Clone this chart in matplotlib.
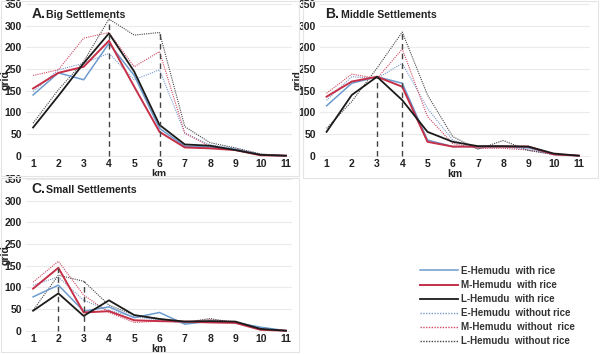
import matplotlib
matplotlib.use("Agg")
import matplotlib.pyplot as plt
from matplotlib.patches import Rectangle

plt.rcParams['font.family'] = ['Liberation Sans', 'DejaVu Sans']

# -----------------------------
# data
# -----------------------------
km = [1, 2, 3, 4, 5, 6, 7, 8, 9, 10, 11]
y_ticks = [0, 50, 100, 150, 200, 250, 300, 350]
y_tick_labels = ["0", "50", "100", "150", "250", "200", "300", "350"]

# A. Big settlements
big_e_rice = [140, 191, 175, 259, 185, 63, 22, 20, 15, 2, 0]
big_m_rice = [155, 191, 205, 265, 159, 55, 19, 17, 13, 1, 0]
big_l_rice = [65, 138, 213, 282, 194, 71, 26, 23, 13, 2, 0]
big_e_norice = [148, 198, 213, 236, 175, 198, 52, 25, 17, 3, 0]
big_m_norice = [185, 198, 271, 284, 205, 240, 52, 21, 13, 2, 0]
big_l_norice = [75, 152, 217, 315, 278, 284, 67, 30, 18, 4, 0]
# guide lines: (km, index of the series they reach up to)
big_guides = [(4, 5), (6, 5)]

# B. Middle settlements
mid_e_rice = [115, 167, 182, 167, 36, 21, 21, 21, 18, 3, 0]
mid_m_rice = [136, 171, 182, 159, 32, 21, 21, 21, 21, 3, 0]
mid_l_rice = [55, 140, 182, 128, 55, 32, 22, 22, 21, 5, 0]
mid_e_norice = [128, 182, 178, 213, 109, 36, 17, 21, 13, 3, 0]
mid_m_norice = [144, 188, 178, 246, 90, 28, 17, 17, 13, 3, 0]
mid_l_norice = [63, 125, 202, 285, 140, 44, 15, 35, 12, 3, 0]
mid_guides = [(3, 2), (4, 5)]

# C. Small settlements
small_e_rice = [78, 105, 45, 55, 30, 42, 15, 22, 19, 8, 0]
small_m_rice = [97, 145, 42, 45, 24, 22, 21, 19, 18, 2, 0]
small_l_rice = [46, 86, 34, 70, 36, 27, 21, 22, 21, 4, 0]
small_e_norice = [105, 124, 70, 47, 32, 25, 17, 25, 19, 7, 0]
small_m_norice = [112, 160, 82, 42, 19, 22, 21, 25, 21, 5, 0]
small_l_norice = [47, 128, 114, 59, 36, 28, 19, 28, 18, 5, 0]
small_guides = [(2, 1), (3, 5)]

labels = ["E-Hemudu  with rice", "M-Hemudu  with rice", "L-Hemudu  with rice",
          "E-Hemudu  without rice", "M-Hemudu  without  rice", "L-Hemudu  without rice"]

blue = "#6c9bcf"
red = "#c52f48"
black = "#1b1b1b"
styles = [
    dict(color=blue, lw=1.1, ls="-"),
    dict(color=red, lw=1.4, ls="-"),
    dict(color=black, lw=1.3, ls="-"),
    dict(color="#7b98cc", lw=0.8, ls=(0, (1, 1))),
    dict(color="#d04a62", lw=0.8, ls=(0, (1, 1))),
    dict(color="#444444", lw=0.8, ls=(0, (1, 1))),
]

W, H = 600, 354
fig = plt.figure(figsize=(W / 100, H / 100), dpi=100)


def px_axes(left, top, right, bottom):
    return fig.add_axes([left / W, 1 - bottom / H, (right - left) / W, (bottom - top) / H])


def panel(ax, series, guides, letter, name, xlim, ylab_x):
    for vals, st in zip(series[3:], styles[3:]):
        ax.plot(km, vals, **st)
    for vals, st in zip(series[:3], styles[:3]):
        ax.plot(km, vals, **st)
    for p, idx in guides:
        ax.plot([p, p], [0, series[idx][p - 1]], color="#444444",
                lw=1.0, ls=(0, (4, 3)))
    ax.set_xlim(*xlim)
    ax.set_ylim(-3, 352)
    ax.set_yticks(y_ticks)
    ax.set_yticklabels(y_tick_labels)
    ax.set_xticks(km)
    ax.tick_params(length=0, labelsize=7.5)
    ax.tick_params(axis="x", pad=1.5)
    ax.tick_params(axis="y", pad=3)
    for t in ax.get_xticklabels() + ax.get_yticklabels():
        t.set_fontweight("bold")
        t.set_color("#222222")
    ax.grid(axis="y", color="#ebebeb", lw=0.8)
    ax.set_axisbelow(True)
    for s in ax.spines.values():
        s.set_visible(False)
    ax.set_xlabel("km", fontsize=7.5, fontweight="bold", color="#222222")
    ax.xaxis.set_label_coords(0.5, -0.08)
    ax.set_ylabel("grid", fontsize=7.5, fontweight="bold", color="#222222")
    ax.yaxis.set_label_coords(ylab_x, 0.5)
    lt = ax.text(0.02, 0.905, letter, transform=ax.transAxes, fontsize=10,
                 fontweight="bold", va="baseline", ha="left", color="#222222")
    ax.annotate(name, xy=(1, 0), xycoords=lt, xytext=(0.8, 0.3),
                textcoords="offset points", fontsize=7.6, fontweight="bold",
                va="bottom", ha="left", color="#222222")


# faint panel frames
for (x0, y0, x1, y1) in [(1, 1, 299, 176), (303, 1, 598, 178), (1, 178, 299, 352)]:
    fig.patches.append(Rectangle((x0 / W, 1 - y1 / H), (x1 - x0) / W, (y1 - y0) / H,
                                 transform=fig.transFigure, fill=False,
                                 ec="#e4e4e4", lw=0.8))

axA = px_axes(26, 3, 292, 157)
panel(axA, [big_e_rice, big_m_rice, big_l_rice, big_e_norice, big_m_norice, big_l_norice],
      big_guides, "A.", "Big Settlements", (0.72, 11.24), -0.056)

axB = px_axes(320, 3, 590, 157)
panel(axB, [mid_e_rice, mid_m_rice, mid_l_rice, mid_e_norice, mid_m_norice, mid_l_norice],
      mid_guides, "B.", "Middle Settlements", (0.74, 11.44), -0.065)

axC = px_axes(26, 178, 292, 332)
panel(axC, [small_e_rice, small_m_rice, small_l_rice, small_e_norice, small_m_norice, small_l_norice],
      small_guides, "C.", "Small Settlements", (0.72, 11.24), -0.056)

handles = [plt.Line2D([], [], **st) for st in styles]
for h in handles[3:]:
    h.set_linewidth(1.0)
leg = fig.legend(handles, labels, loc="upper left", bbox_to_anchor=(416 / W, 1 - 262 / H),
                 frameon=False, fontsize=7, handlelength=3.9, handletextpad=0.35,
                 labelspacing=0.42, borderaxespad=0)
for t in leg.get_texts():
    t.set_fontweight("bold")
    t.set_color("#333333")

fig.savefig("out.png", dpi=100)
